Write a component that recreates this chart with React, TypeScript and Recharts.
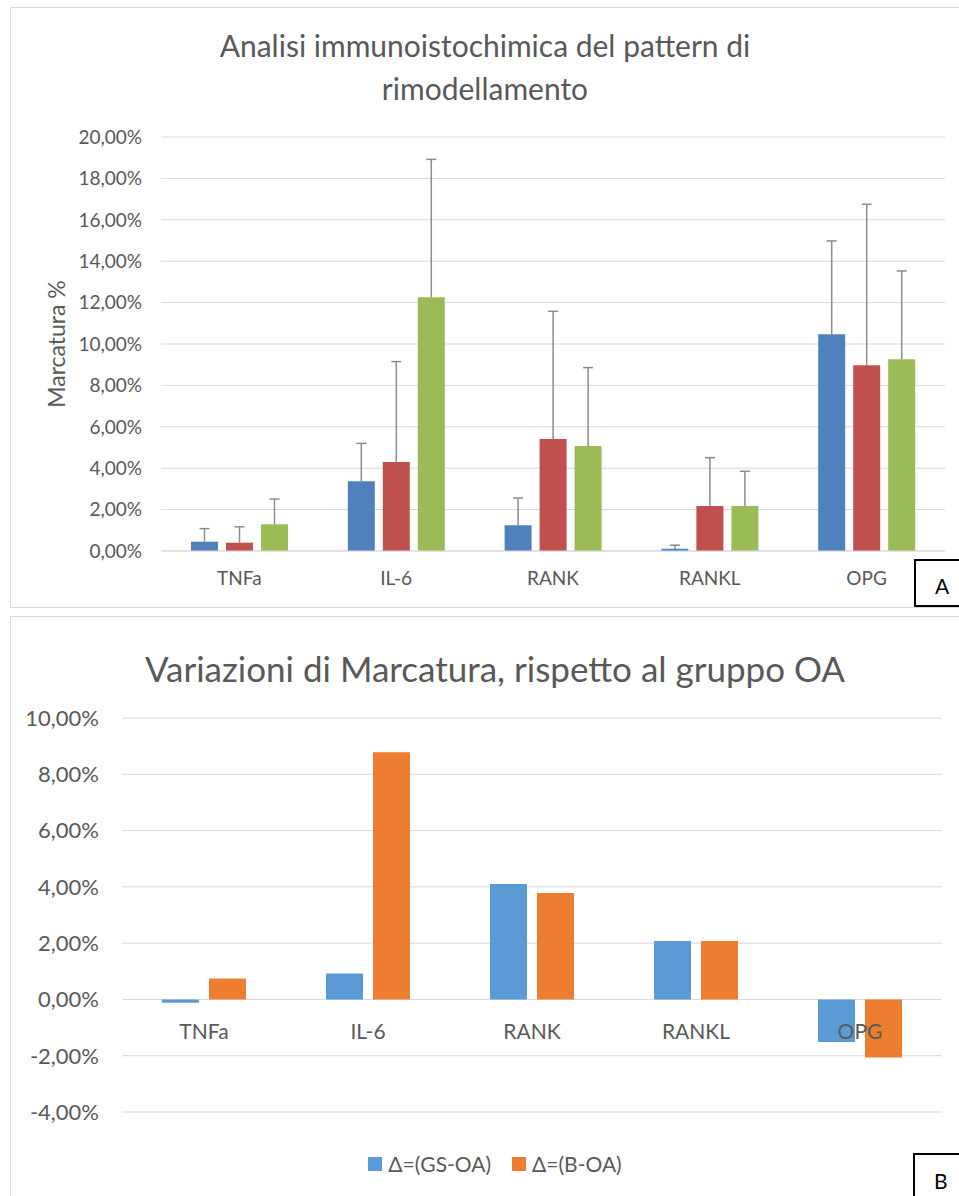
import React from 'react';
import { BarChart, Bar, XAxis, YAxis, CartesianGrid, Legend, ReferenceDot } from 'recharts';

const markers = ['TNFa', 'IL-6', 'RANK', 'RANKL', 'OPG'];

// pannello A: marcatura media (%) per gruppo
const oaValues = [0.45, 3.37, 1.24, 0.11, 10.47];
const gsValues = [0.4, 4.3, 5.41, 2.17, 8.97];
const bValues = [1.29, 12.26, 5.07, 2.17, 9.26];
// barre di errore (solo verso l'alto)
const oaErr = [0.63, 1.83, 1.32, 0.17, 4.51];
const gsErr = [0.77, 4.85, 6.17, 2.34, 7.78];
const bErr = [1.22, 6.66, 3.79, 1.68, 4.27];
const ticksA = [0, 2, 4, 6, 8, 10, 12, 14, 16, 18, 20];

// pannello B: differenze rispetto al gruppo OA
const deltaGs = [-0.12, 0.92, 4.1, 2.08, -1.51];
const deltaB = [0.74, 8.78, 3.78, 2.08, -2.06];
const ticksB = [-4, -2, 0, 2, 4, 6, 8, 10];
const legendOrder = ['Δ=(GS-OA)', 'Δ=(B-OA)'];

const dataA = markers.map((name, i) => ({
  name,
  oa: oaValues[i],
  oaErr: oaErr[i],
  gs: gsValues[i],
  gsErr: gsErr[i],
  b: bValues[i],
  bErr: bErr[i],
}));

const dataB = markers.map((name, i) => ({ name, gs: deltaGs[i], b: deltaB[i] }));

const TEXT = '#595959';
const GRID = '#d9d9d9';

const pct = (v: number) => v.toFixed(2).replace('.', ',') + '%';

const ErrorWhisker = (props: any) => {
  const { x, y, width, height } = props;
  if (!height) return null;
  const cx = x + width / 2;
  return (
    <g stroke="#8c8c8c" strokeWidth={1.5}>
      <line x1={cx} y1={y + height} x2={cx} y2={y} />
      <line x1={cx - 5} y1={y} x2={cx + 5} y2={y} />
    </g>
  );
};

const YTitle = (props: any) => {
  const vb = props.viewBox;
  const x = vb.x + 56;
  const y = vb.y + vb.height / 2;
  return (
    <text x={x} y={y} transform={`rotate(-90 ${x} ${y})`} textAnchor="middle"
      dominantBaseline="central" fill={TEXT} fontSize={23}>
      Marcatura %
    </text>
  );
};

const renderLegend = (props: any) => {
  const items = [...props.payload].sort(
    (a: any, b: any) => legendOrder.indexOf(a.value) - legendOrder.indexOf(b.value)
  );
  return (
    <div style={{ display: 'flex', justifyContent: 'center', gap: 21, fontSize: 21, color: TEXT }}>
      {items.map((p: any) => (
        <span key={p.value} style={{ display: 'inline-flex', alignItems: 'center' }}>
          <span style={{ width: 14, height: 14, background: p.color, marginRight: 6, display: 'inline-block' }} />
          {p.value}
        </span>
      ))}
    </div>
  );
};

const App = () => {
  return (
    <div style={{ position: 'absolute', left: 0, top: 0, width: 959, height: 1196, overflow: 'hidden', background: '#fff', fontFamily: 'Lato, sans-serif' }}>
      {/* pannello A */}
      <div style={{ position: 'absolute', left: 10, top: 7, width: 970, height: 599, border: `1px solid ${GRID}` }} />
      <div style={{ position: 'absolute', left: 10, top: 24, width: 950, textAlign: 'center', fontSize: 30, lineHeight: '43px', color: TEXT }}>
        Analisi immunoistochimica del pattern di<br />rimodellamento
      </div>
      <div style={{ position: 'absolute', left: 0, top: 0 }}>
        <BarChart width={959} height={607} data={dataA} margin={{ top: 137, right: 14, bottom: 0, left: 0 }}
          barCategoryGap={30} barGap={8}>
          <CartesianGrid vertical={false} stroke={GRID} />
          <XAxis dataKey="name" height={56} tickLine={false} axisLine={{ stroke: GRID }}
            tick={{ fill: TEXT, fontSize: 19 }} tickMargin={15} />
          <YAxis domain={[0, 20]} ticks={ticksA} interval={0} width={161} tickLine={false} axisLine={false}
            tick={{ fill: TEXT, fontSize: 19 }} tickMargin={13} tickFormatter={pct}
            label={{ content: <YTitle /> }} />
          <Bar dataKey="oa" stackId="oa" fill="#4F81BD" isAnimationActive={false} />
          <Bar dataKey="oaErr" stackId="oa" fill="none" shape={ErrorWhisker} isAnimationActive={false} />
          <Bar dataKey="gs" stackId="gs" fill="#C0504D" isAnimationActive={false} />
          <Bar dataKey="gsErr" stackId="gs" fill="none" shape={ErrorWhisker} isAnimationActive={false} />
          <Bar dataKey="b" stackId="b" fill="#9BBB59" isAnimationActive={false} />
          <Bar dataKey="bErr" stackId="b" fill="none" shape={ErrorWhisker} isAnimationActive={false} />
        </BarChart>
      </div>
      <div style={{ position: 'absolute', left: 914, top: 559, width: 60, height: 44, border: '2px solid #000', background: '#fff' }}>
        <span style={{ position: 'absolute', left: 19, top: 12, fontSize: 21, color: '#000' }}>A</span>
      </div>

      {/* pannello B */}
      <div style={{ position: 'absolute', left: 10, top: 616, width: 970, height: 600, border: `1px solid ${GRID}` }} />
      <div style={{ position: 'absolute', left: 10, top: 645, width: 970, textAlign: 'center', fontSize: 35, lineHeight: '46px', color: TEXT }}>
        Variazioni di Marcatura, rispetto al gruppo OA
      </div>
      <div style={{ position: 'absolute', left: 0, top: 617 }}>
        <BarChart width={959} height={579} data={dataB} margin={{ top: 101, right: 17, bottom: 84, left: 0 }}
          barCategoryGap={40} barGap={10}>
          <CartesianGrid vertical={false} stroke={GRID} />
          <XAxis dataKey="name" hide />
          <YAxis domain={[-4, 10]} ticks={ticksB} interval={0} width={122} tickLine={false} axisLine={false}
            tick={{ fill: TEXT, fontSize: 22 }} tickMargin={17} tickFormatter={pct} />
          <Bar dataKey="gs" name="Δ=(GS-OA)" fill="#5B9BD5" isAnimationActive={false} />
          <Bar dataKey="b" name="Δ=(B-OA)" fill="#ED7D31" isAnimationActive={false} />
          {markers.map((m) => (
            <ReferenceDot key={m} x={m} y={0} r={1} fill="none" stroke="none"
              label={{ value: m, position: 'bottom', offset: 24, fill: TEXT, fontSize: 21 }} />
          ))}
          <Legend verticalAlign="middle" align="center" content={renderLegend}
            wrapperStyle={{ top: 534, left: 10, width: 970 }} />
        </BarChart>
      </div>
      <div style={{ position: 'absolute', left: 913, top: 1153, width: 60, height: 60, border: '2px solid #000', background: '#fff' }}>
        <span style={{ position: 'absolute', left: 19, top: 13, fontSize: 21, color: '#000' }}>B</span>
      </div>
    </div>
  );
};

export default App;
